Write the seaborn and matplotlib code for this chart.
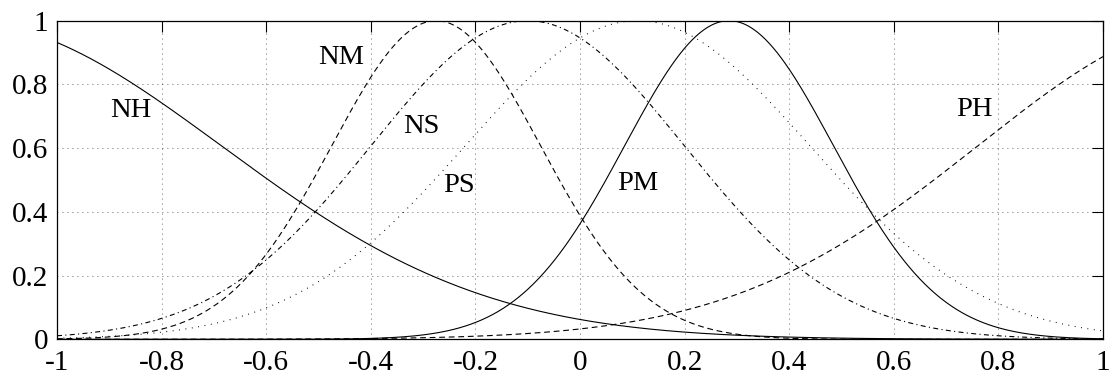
import numpy as np
import pandas as pd
import matplotlib
matplotlib.use("Agg")
import matplotlib.pyplot as plt
import seaborn as sns

# membership function sets (gaussian)
set_names = ["NH", "NM", "NS", "PS", "PM", "PH"]
centres = [-1.19, -0.275, -0.10, 0.11, 0.285, 1.23]
widths = [0.505, 0.20, 0.30, 0.33, 0.20, 0.47]

# where each set name is written
label_x = [-0.859, -0.456, -0.303, -0.232, 0.110, 0.754]
label_y = [0.717, 0.883, 0.667, 0.484, 0.490, 0.720]

x_ticks = [-1, -0.8, -0.6, -0.4, -0.2, 0, 0.2, 0.4, 0.6, 0.8, 1]
y_ticks = [0, 0.2, 0.4, 0.6, 0.8, 1]

line_styles = {
    "NH": "-",
    "NM": (0, (5.2, 3.4)),
    "NS": (0, (4.5, 3.0, 1.0, 3.0)),
    "PS": (0, (0.8, 5.0)),
    "PM": "-",
    "PH": (0, (5.2, 3.4)),
}

x = np.linspace(-1, 1, 801)
frames = []
for name, c, s in zip(set_names, centres, widths):
    frames.append(pd.DataFrame({"x": x, "mu": np.exp(-(x - c) ** 2 / (2 * s ** 2)), "set": name}))
df = pd.concat(frames, ignore_index=True)

sns.set_style("white")
plt.rcParams["font.family"] = ["Liberation Serif", "DejaVu Serif"]

fig = plt.figure(figsize=(11.11, 3.79), dpi=100)
ax = fig.add_axes([0.0513, 0.1047, 0.9415, 0.8407])

for name in set_names:
    sns.lineplot(data=df[df["set"] == name], x="x", y="mu", ax=ax, color="black",
                 linewidth=0.8, linestyle=line_styles[name], legend=False)

for name, lx, ly in zip(set_names, label_x, label_y):
    ax.text(lx, ly, name, ha="center", va="center", fontsize=20.5, color="black")

ax.set_xlim(-1, 1)
ax.set_ylim(0, 1)
ax.set_xticks(x_ticks)
ax.set_yticks(y_ticks)
ax.set_xticklabels([f"{v:g}" for v in x_ticks])
ax.set_yticklabels([f"{v:g}" for v in y_ticks])
ax.set_xlabel("")
ax.set_ylabel("")
ax.grid(True, color="black", linestyle=(0, (1.0, 5.0)), linewidth=0.6, alpha=0.8)
ax.tick_params(direction="in", length=8, width=0.8, top=True, right=True,
               labelsize=21, colors="black")
ax.tick_params(axis="x", pad=8)
ax.tick_params(axis="y", pad=6.5)
for sp in ax.spines.values():
    sp.set_visible(True)
    sp.set_color("black")
    sp.set_linewidth(0.9)

fig.savefig("out.png", dpi=100)
